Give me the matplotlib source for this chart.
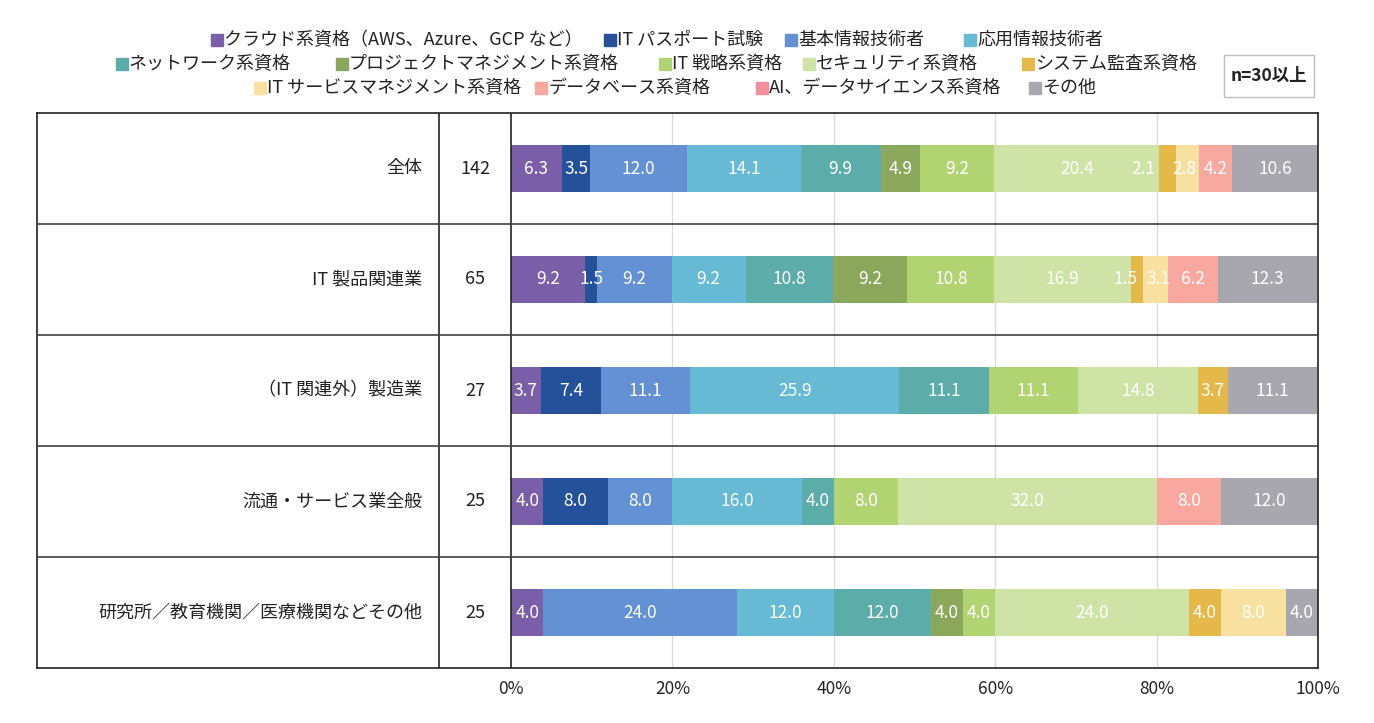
import numpy as np
import matplotlib
matplotlib.use("Agg")
import matplotlib.pyplot as plt
from matplotlib.patches import Rectangle

plt.rcParams['font.family'] = ['Noto Sans CJK JP', 'DejaVu Sans']

# ---- データ ----
categories = ['全体', 'IT 製品関連業', '（IT 関連外）製造業', '流通・サービス業全般',
              '研究所／教育機関／医療機関などその他']
n_values = [142, 65, 27, 25, 25]

series_names = ['クラウド系資格（AWS、Azure、GCP など）', 'IT パスポート試験', '基本情報技術者',
                '応用情報技術者', 'ネットワーク系資格', 'プロジェクトマネジメント系資格',
                'IT 戦略系資格', 'セキュリティ系資格', 'システム監査系資格',
                'IT サービスマネジメント系資格', 'データベース系資格',
                'AI、データサイエンス系資格', 'その他']
series_colors = ['#7A5FA8', '#24519A', '#6490D4', '#67BAD3', '#5CACAA', '#8BA75C',
                 '#B2D371', '#D0E3A7', '#E5B84A', '#F8E1A0', '#F8A89F', '#F0909A', '#A8A7AF']

# 行ごとの値（%）: 系列順
cloud      = [6.3, 9.2, 3.7, 4.0, 4.0]
itpass     = [3.5, 1.5, 7.4, 8.0, 0.0]
kihon      = [12.0, 9.2, 11.1, 8.0, 24.0]
ouyou      = [14.1, 9.2, 25.9, 16.0, 12.0]
network    = [9.9, 10.8, 11.1, 4.0, 12.0]
pm         = [4.9, 9.2, 0.0, 0.0, 4.0]
senryaku   = [9.2, 10.8, 11.1, 8.0, 4.0]
security   = [20.4, 16.9, 14.8, 32.0, 24.0]
kansa      = [2.1, 1.5, 3.7, 0.0, 4.0]
service    = [2.8, 3.1, 0.0, 0.0, 8.0]
database   = [4.2, 6.2, 0.0, 8.0, 0.0]
ai_ds      = [0.0, 0.0, 0.0, 0.0, 0.0]
other      = [10.6, 12.3, 11.1, 12.0, 4.0]
series_values = [cloud, itpass, kihon, ouyou, network, pm, senryaku, security,
                 kansa, service, database, ai_ds, other]

# 細い区間のラベルずらし（系列番号, 行番号）: ％単位
label_shift = {(8, 0): -3.0, (8, 1): -1.4, (9, 1): 0.4, (9, 0): -0.4}

# ---- レイアウト（ピクセル） ----
W, H = 1374, 723
box_l, box_r, box_t, box_b = 37, 1318, 113, 668
bar_l, sep_x = 511, 439
unit = (box_r - bar_l) / 100.0
x_left = (box_l - bar_l) / unit

fig = plt.figure(figsize=(W / 100, H / 100), dpi=100)
ax = fig.add_axes([box_l / W, (H - box_b) / H, (box_r - box_l) / W, (box_b - box_t) / H])
ax.set_xlim(x_left, 100)
ax.set_ylim(len(categories), 0)

# グリッド線
ax.vlines([20, 40, 60, 80], 0, len(categories), color='#D9D9D9', lw=0.9, zorder=0)

# 積み上げ棒
y = np.arange(len(categories)) + 0.5
left = np.zeros(len(categories))
for s_idx, (vals, col) in enumerate(zip(series_values, series_colors)):
    vals = np.array(vals)
    ax.barh(y, vals, left=left, height=0.43, color=col, edgecolor='none', zorder=2)
    for i, v in enumerate(vals):
        if v > 0:
            cx = left[i] + v / 2 + label_shift.get((s_idx, i), 0.0)
            ax.text(cx, y[i], f'{v:.1f}', color='white', ha='center', va='center',
                    fontsize=12.5, zorder=3)
    left += vals

# 表の罫線
ax.axvline((sep_x - bar_l) / unit, color='#222222', lw=1.2, zorder=4)
ax.axvline(0, color='#222222', lw=1.2, zorder=4)
for k in range(1, len(categories)):
    ax.axhline(k, color='#404040', lw=1.2, zorder=4)

# 区分名と n
for i, (c, n) in enumerate(zip(categories, n_values)):
    ax.text((422 - bar_l) / unit, y[i], c, ha='right', va='center', fontsize=13, color='#222222')
    ax.text((475 - bar_l) / unit, y[i], str(n), ha='center', va='center', fontsize=13, color='#222222')

for s in ax.spines.values():
    s.set_color('#222222')
    s.set_linewidth(1.2)
ax.set_xticks([0, 20, 40, 60, 80, 100])
ax.set_xticklabels([f'{t}%' for t in [0, 20, 40, 60, 80, 100]], fontsize=12.5, color='#222222')
ax.tick_params(axis='x', length=0, pad=9)
ax.set_yticks([])

# 凡例（Excel 風の配置）
legend_rows = [[0, 1, 2, 3], [4, 5, 6, 7, 8], [9, 10, 11, 12]]
legend_x = [[211, 604, 785, 964], [116, 336, 659, 803, 1022], [254, 535, 756, 1029]]
legend_y = [40, 64, 88]
for row, xs, ly in zip(legend_rows, legend_x, legend_y):
    for idx, lx in zip(row, xs):
        fig.patches.append(Rectangle((lx / W, (H - ly - 6) / H), 12 / W, 12 / H,
                                     transform=fig.transFigure, color=series_colors[idx]))
        fig.text((lx + 13) / W, (H - ly) / H, series_names[idx], ha='left', va='center',
                 fontsize=13, color='#222222')

# n=30以上 ボックス
fig.patches.append(Rectangle((1224 / W, (H - 97) / H), 90 / W, 42 / H, transform=fig.transFigure,
                             facecolor='white', edgecolor='#BFBFBF', lw=1))
fig.text(1269 / W, (H - 76) / H, 'n=30以上', ha='center', va='center', fontsize=12.5,
         fontweight='bold', color='#222222')

fig.savefig('out.png', dpi=100)
